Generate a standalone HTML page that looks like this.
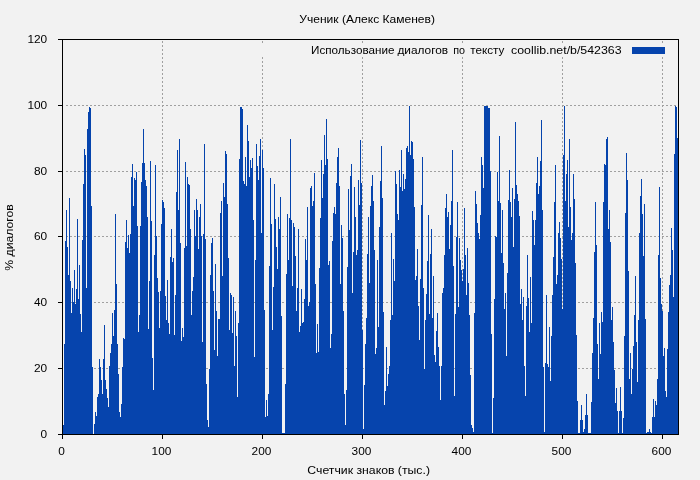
<!DOCTYPE html>
<html><head><meta charset="utf-8"><style>
html,body{margin:0;padding:0;background:#f2f2f2;}
body{width:700px;height:480px;overflow:hidden;position:relative;font-family:"Liberation Sans",sans-serif;}
svg{position:absolute;left:0;top:0;will-change:transform;}
text{font-family:"Liberation Sans",sans-serif;font-size:11px;fill:#000;}
</style></head><body>
<svg width="700" height="480" viewBox="0 0 700 480">
<rect x="0" y="0" width="700" height="480" fill="#f2f2f2"/>
<g stroke="#a0a0a0" stroke-width="1" stroke-dasharray="2,2" shape-rendering="crispEdges" fill="none">
<path d="M66 368.5H678M66 302.5H678M66 236.5H678M66 171.5H678M66 105.5H678"/>
<path d="M162.5 41V434M262.5 41V43M262.5 57V434M362.5 41V43M362.5 57V434M462.5 41V43M462.5 57V434M562.5 41V43M562.5 57V434M662.5 41V43M662.5 57V434"/>
</g>
<path d="M63 434V425H64V434ZM64 434V344H65V434ZM65 434V241H66V434ZM66 434V210H67V434ZM67 434V247H68V434ZM68 434V275H69V434ZM69 434V198H70V434ZM70 434V281H71V434ZM71 434V313H72V434ZM72 434V288H73V434ZM73 434V302H74V434ZM74 434V270H75V434ZM75 434V304H76V434ZM76 434V289H77V434ZM77 434V219H78V434ZM78 434V299H79V434ZM79 434V265H80V434ZM80 434V314H81V434ZM81 434V332H82V434ZM82 434V240H83V434ZM83 434V184H84V434ZM84 434V149H85V434ZM85 434V155H86V434ZM86 434V288H87V434ZM87 434V129H88V434ZM88 434V112H89V434ZM89 434V107H90V434ZM90 434V108H91V434ZM91 434V206H92V434ZM92 434V367H93V434ZM94 434V424H95V434ZM95 434V412H96V434ZM96 434V416H97V434ZM97 434V397H98V434ZM98 434V394H99V434ZM99 434V359H100V434ZM100 434V367H101V434ZM101 434V380H102V434ZM102 434V394H103V434ZM103 434V359H104V434ZM104 434V325H105V434ZM105 434V380H106V434ZM106 434V389H107V434ZM107 434V398H108V434ZM108 434V407H109V434ZM109 434V366H110V434ZM110 434V353H111V434ZM111 434V344H112V434ZM112 434V313H113V434ZM113 434V336H114V434ZM114 434V310H115V434ZM115 434V214H116V434ZM116 434V284H117V434ZM117 434V344H118V434ZM118 434V374H119V434ZM119 434V412H120V434ZM120 434V417H121V434ZM121 434V404H122V434ZM122 434V367H123V434ZM123 434V338H124V434ZM124 434V339H125V434ZM125 434V242H126V434ZM126 434V220H127V434ZM127 434V248H128V434ZM128 434V235H129V434ZM129 434V253H130V434ZM130 434V234H131V434ZM131 434V177H132V434ZM132 434V164H133V434ZM133 434V206H134V434ZM134 434V178H135V434ZM135 434V180H136V434ZM136 434V172H137V434ZM137 434V226H138V434ZM138 434V332H139V434ZM139 434V315H140V434ZM140 434V226H141V434ZM141 434V182H142V434ZM142 434V163H143V434ZM143 434V129H144V434ZM144 434V163H145V434ZM145 434V180H146V434ZM146 434V186H147V434ZM147 434V217H148V434ZM148 434V329H149V434ZM149 434V281H150V434ZM150 434V161H151V434ZM151 434V221H152V434ZM152 434V358H153V434ZM153 434V390H154V434ZM154 434V255H155V434ZM155 434V165H156V434ZM156 434V236H157V434ZM157 434V278H158V434ZM158 434V292H159V434ZM159 434V328H160V434ZM160 434V291H161V434ZM161 434V224H162V434ZM162 434V200H163V434ZM163 434V202H164V434ZM164 434V208H165V434ZM165 434V296H166V434ZM166 434V320H167V434ZM167 434V280H168V434ZM168 434V323H169V434ZM169 434V334H170V434ZM170 434V257H171V434ZM171 434V229H172V434ZM172 434V262H173V434ZM173 434V258H174V434ZM174 434V335H175V434ZM175 434V295H176V434ZM176 434V192H177V434ZM177 434V150H178V434ZM178 434V210H179V434ZM179 434V139H180V434ZM180 434V243H181V434ZM181 434V341H182V434ZM182 434V328H183V434ZM183 434V337H184V434ZM184 434V248H185V434ZM185 434V162H186V434ZM186 434V246H187V434ZM187 434V177H188V434ZM188 434V184H189V434ZM189 434V185H190V434ZM190 434V229H191V434ZM191 434V315H192V434ZM192 434V291H193V434ZM193 434V277H194V434ZM194 434V210H195V434ZM195 434V236H196V434ZM196 434V199H197V434ZM197 434V210H198V434ZM198 434V249H199V434ZM199 434V217H200V434ZM200 434V204H201V434ZM201 434V236H202V434ZM202 434V342H203V434ZM203 434V234H204V434ZM204 434V144H205V434ZM205 434V239H206V434ZM206 434V384H207V434ZM207 434V420H208V434ZM208 434V427H209V434ZM209 434V369H210V434ZM210 434V275H211V434ZM211 434V243H212V434ZM212 434V238H213V434ZM213 434V291H214V434ZM214 434V350H215V434ZM215 434V264H216V434ZM216 434V311H217V434ZM217 434V356H218V434ZM218 434V319H220V434ZM220 434V213H221V434ZM221 434V201H222V434ZM222 434V276H223V434ZM223 434V183H224V434ZM224 434V197H225V434ZM225 434V151H226V434ZM226 434V154H227V434ZM227 434V204H228V434ZM228 434V258H229V434ZM229 434V330H230V434ZM230 434V293H231V434ZM231 434V295H232V434ZM232 434V333H233V434ZM233 434V297H234V434ZM234 434V366H235V434ZM235 434V311H236V434ZM236 434V336H237V434ZM237 434V397H238V434ZM238 434V323H239V434ZM239 434V159H240V434ZM240 434V107H242V434ZM242 434V109H243V434ZM243 434V181H244V434ZM244 434V184H245V434ZM245 434V157H246V434ZM246 434V186H247V434ZM247 434V125H248V434ZM248 434V141H249V434ZM249 434V177H250V434ZM250 434V160H251V434ZM251 434V168H252V434ZM252 434V158H253V434ZM253 434V220H254V434ZM254 434V357H255V434ZM255 434V260H256V434ZM256 434V144H257V434ZM257 434V166H258V434ZM258 434V180H259V434ZM259 434V156H260V434ZM260 434V139H261V434ZM261 434V233H262V434ZM262 434V150H263V434ZM263 434V168H264V434ZM264 434V310H265V434ZM265 434V417H266V434ZM266 434V400H267V434ZM267 434V416H268V434ZM268 434V394H269V434ZM269 434V266H270V434ZM270 434V178H271V434ZM271 434V224H272V434ZM272 434V330H273V434ZM273 434V287H274V434ZM274 434V184H275V434ZM275 434V219H276V434ZM276 434V247H277V434ZM277 434V269H278V434ZM278 434V217H279V434ZM279 434V229H280V434ZM280 434V197H281V434ZM281 434V316H282V434ZM282 434V433H285V434ZM285 434V384H286V434ZM286 434V274H287V434ZM287 434V214H288V434ZM288 434V260H289V434ZM289 434V218H290V434ZM290 434V139H291V434ZM291 434V220H292V434ZM292 434V286H293V434ZM293 434V223H294V434ZM294 434V227H295V434ZM295 434V256H296V434ZM296 434V311H297V434ZM297 434V288H298V434ZM298 434V229H299V434ZM299 434V332H300V434ZM300 434V326H301V434ZM301 434V289H302V434ZM302 434V323H303V434ZM303 434V322H304V434ZM304 434V299H305V434ZM305 434V239H306V434ZM306 434V260H307V434ZM307 434V207H308V434ZM308 434V306H309V434ZM309 434V302H310V434ZM310 434V188H311V434ZM311 434V186H312V434ZM312 434V206H313V434ZM313 434V201H314V434ZM314 434V173H315V434ZM315 434V284H316V434ZM316 434V353H317V434ZM317 434V324H318V434ZM318 434V352H319V434ZM319 434V268H320V434ZM320 434V218H321V434ZM321 434V160H322V434ZM322 434V198H323V434ZM323 434V174H324V434ZM324 434V135H325V434ZM325 434V165H326V434ZM326 434V119H327V434ZM327 434V159H328V434ZM328 434V265H329V434ZM329 434V261H330V434ZM330 434V348H331V434ZM331 434V334H332V434ZM332 434V241H333V434ZM333 434V213H334V434ZM334 434V207H335V434ZM335 434V214H336V434ZM336 434V183H337V434ZM337 434V157H338V434ZM338 434V148H339V434ZM339 434V186H340V434ZM340 434V284H341V434ZM341 434V225H342V434ZM342 434V238H343V434ZM343 434V311H344V434ZM344 434V394H345V434ZM345 434V425H346V434ZM346 434V390H347V434ZM347 434V267H348V434ZM348 434V189H349V434ZM349 434V230H350V434ZM350 434V176H351V434ZM351 434V164H352V434ZM352 434V293H353V434ZM353 434V252H354V434ZM354 434V187H355V434ZM355 434V217H356V434ZM356 434V255H357V434ZM357 434V250H358V434ZM358 434V180H359V434ZM359 434V205H360V434ZM360 434V140H361V434ZM361 434V183H362V434ZM362 434V330H363V434ZM363 434V429H364V434ZM364 434V385H365V434ZM365 434V344H366V434ZM366 434V318H367V434ZM367 434V254H368V434ZM368 434V217H369V434ZM369 434V283H370V434ZM370 434V206H371V434ZM371 434V186H372V434ZM372 434V175H373V434ZM373 434V201H374V434ZM374 434V250H375V434ZM375 434V354H376V434ZM376 434V348H377V434ZM377 434V260H378V434ZM378 434V327H379V434ZM379 434V227H380V434ZM380 434V181H381V434ZM381 434V146H382V434ZM382 434V198H383V434ZM383 434V312H384V434ZM384 434V405H385V434ZM385 434V391H386V434ZM386 434V347H387V434ZM387 434V386H388V434ZM388 434V374H389V434ZM389 434V366H390V434ZM390 434V320H391V434ZM391 434V233H392V434ZM392 434V315H393V434ZM393 434V259H394V434ZM394 434V281H395V434ZM395 434V171H396V434ZM396 434V184H397V434ZM397 434V214H398V434ZM398 434V220H399V434ZM399 434V170H400V434ZM400 434V187H401V434ZM401 434V150H402V434ZM402 434V191H403V434ZM403 434V174H404V434ZM404 434V189H405V434ZM405 434V179H406V434ZM406 434V148H407V434ZM407 434V146H408V434ZM408 434V152H409V434ZM409 434V106H410V434ZM410 434V155H411V434ZM411 434V141H412V434ZM412 434V142H413V434ZM413 434V159H414V434ZM414 434V207H415V434ZM415 434V280H416V434ZM416 434V276H417V434ZM417 434V249H418V434ZM418 434V306H419V434ZM419 434V340H420V434ZM420 434V279H421V434ZM421 434V205H422V434ZM422 434V157H423V434ZM423 434V288H424V434ZM424 434V369H425V434ZM425 434V320H426V434ZM426 434V294H427V434ZM427 434V261H428V434ZM428 434V215H429V434ZM429 434V314H430V434ZM430 434V254H431V434ZM431 434V229H432V434ZM432 434V318H433V434ZM433 434V276H434V434ZM434 434V355H435V434ZM435 434V362H436V434ZM436 434V331H437V434ZM437 434V313H438V434ZM438 434V347H439V434ZM439 434V366H440V434ZM440 434V400H441V434ZM441 434V366H442V434ZM442 434V293H443V434ZM443 434V288H444V434ZM444 434V255H445V434ZM445 434V208H446V434ZM446 434V194H447V434ZM447 434V217H448V434ZM448 434V212H449V434ZM449 434V249H450V434ZM450 434V225H451V434ZM451 434V201H452V434ZM452 434V150H453V434ZM453 434V266H454V434ZM454 434V396H455V434ZM455 434V314H456V434ZM456 434V237H457V434ZM457 434V202H458V434ZM458 434V307H459V434ZM459 434V238H460V434ZM460 434V260H461V434ZM461 434V270H462V434ZM462 434V281H463V434ZM463 434V269H464V434ZM464 434V208H465V434ZM465 434V255H466V434ZM466 434V295H467V434ZM467 434V248H468V434ZM468 434V283H469V434ZM469 434V315H470V434ZM470 434V375H471V434ZM471 434V425H472V434ZM472 434V428H473V434ZM473 434V432H474V434ZM474 434V313H475V434ZM475 434V191H476V434ZM476 434V204H477V434ZM477 434V223H478V434ZM478 434V233H479V434ZM479 434V239H480V434ZM480 434V215H481V434ZM481 434V157H482V434ZM482 434V165H483V434ZM483 434V188H484V434ZM484 434V106H488V434ZM488 434V108H490V434ZM490 434V171H491V434ZM491 434V334H492V434ZM492 434V433H493V434ZM493 434V398H494V434ZM494 434V299H495V434ZM495 434V236H496V434ZM496 434V237H497V434ZM497 434V172H498V434ZM498 434V201H499V434ZM499 434V136H500V434ZM500 434V203H501V434ZM501 434V253H502V434ZM502 434V210H503V434ZM503 434V263H504V434ZM504 434V309H505V434ZM505 434V293H506V434ZM506 434V356H507V434ZM507 434V273H508V434ZM508 434V200H509V434ZM509 434V170H510V434ZM510 434V202H511V434ZM511 434V217H512V434ZM512 434V188H513V434ZM513 434V247H514V434ZM514 434V199H515V434ZM515 434V122H516V434ZM516 434V185H517V434ZM517 434V194H518V434ZM518 434V201H519V434ZM519 434V216H520V434ZM520 434V304H521V434ZM521 434V289H522V434ZM522 434V320H523V434ZM523 434V297H524V434ZM524 434V366H525V434ZM525 434V396H526V434ZM526 434V306H527V434ZM527 434V255H528V434ZM528 434V298H529V434ZM529 434V332H530V434ZM530 434V277H531V434ZM531 434V323H532V434ZM532 434V211H533V434ZM533 434V220H534V434ZM534 434V245H535V434ZM535 434V220H536V434ZM536 434V183H537V434ZM537 434V157H538V434ZM538 434V194H539V434ZM539 434V186H540V434ZM540 434V161H541V434ZM541 434V120H542V434ZM542 434V210H543V434ZM543 434V367H544V434ZM544 434V432H545V434ZM545 434V363H546V434ZM546 434V295H547V434ZM547 434V364H548V434ZM548 434V367H549V434ZM549 434V327H550V434ZM550 434V381H551V434ZM551 434V336H552V434ZM552 434V295H553V434ZM553 434V257H554V434ZM554 434V202H555V434ZM555 434V165H556V434ZM556 434V284H557V434ZM557 434V275H558V434ZM558 434V233H559V434ZM559 434V222H560V434ZM560 434V238H561V434ZM561 434V259H562V434ZM562 434V309H563V434ZM563 434V155H564V434ZM564 434V106H565V434ZM565 434V201H566V434ZM566 434V174H567V434ZM567 434V160H568V434ZM568 434V227H569V434ZM569 434V139H570V434ZM570 434V207H571V434ZM571 434V240H572V434ZM572 434V233H573V434ZM573 434V174H574V434ZM574 434V199H575V434ZM575 434V263H576V434ZM576 434V335H577V434ZM577 434V401H578V434ZM578 434V433H580V434ZM580 434V420H581V434ZM581 434V405H582V434ZM582 434V420H583V434ZM583 434V432H584V434ZM584 434V429H585V434ZM585 434V415H586V434ZM586 434V394H587V434ZM587 434V415H588V434ZM588 434V433H591V434ZM591 434V402H592V434ZM592 434V353H593V434ZM593 434V318H594V434ZM594 434V252H595V434ZM595 434V202H596V434ZM596 434V245H597V434ZM597 434V344H598V434ZM598 434V379H599V434ZM599 434V323H600V434ZM600 434V354H601V434ZM601 434V312H602V434ZM602 434V322H603V434ZM603 434V202H604V434ZM604 434V164H605V434ZM605 434V165H606V434ZM606 434V139H607V434ZM607 434V137H608V434ZM608 434V229H609V434ZM609 434V210H610V434ZM610 434V242H611V434ZM611 434V320H612V434ZM612 434V307H613V434ZM613 434V342H614V434ZM614 434V370H615V434ZM615 434V403H616V434ZM616 434V388H617V434ZM617 434V411H618V434ZM618 434V433H619V434ZM619 434V411H620V434ZM620 434V387H621V434ZM621 434V411H622V434ZM622 434V433H623V434ZM623 434V418H624V434ZM624 434V336H625V434ZM625 434V213H626V434ZM626 434V153H627V434ZM627 434V180H628V434ZM628 434V271H629V434ZM629 434V379H630V434ZM630 434V353H631V434ZM631 434V394H632V434ZM632 434V369H633V434ZM633 434V346H634V434ZM634 434V315H635V434ZM635 434V276H636V434ZM636 434V342H637V434ZM637 434V382H638V434ZM638 434V320H639V434ZM639 434V233H640V434ZM640 434V196H641V434ZM641 434V179H642V434ZM642 434V214H643V434ZM643 434V256H644V434ZM644 434V204H645V434ZM645 434V319H646V434ZM646 434V433H647V434ZM647 434V432H649V434ZM649 434V429H650V434ZM650 434V432H651V434ZM651 434V433H652V434ZM652 434V417H653V434ZM653 434V399H654V434ZM654 434V417H655V434ZM655 434V401H656V434ZM656 434V405H657V434ZM657 434V379H658V434ZM658 434V255H659V434ZM659 434V187H660V434ZM660 434V278H661V434ZM661 434V304H662V434ZM662 434V311H663V434ZM663 434V356H664V434ZM664 434V348H665V434ZM665 434V391H666V434ZM666 434V397H667V434ZM667 434V349H668V434ZM668 434V312H669V434ZM669 434V285H670V434ZM670 434V275H671V434ZM671 434V228H672V434ZM672 434V250H673V434ZM673 434V297H674V434ZM674 434V154H675V434ZM675 434V106H676V434ZM676 434V107H677V434ZM677 434V138H678V434Z" fill="#0644ad" shape-rendering="crispEdges"/>
<rect x="632" y="47" width="33" height="7" fill="#0644ad" shape-rendering="crispEdges"/>
<g stroke="#000" stroke-width="1" shape-rendering="crispEdges" fill="none">
<path d="M62.5 39.5H678.5V434.5H62.5Z"/>
<path d="M58 434.5H62M58 368.5H62M58 302.5H62M58 236.5H62M58 171.5H62M58 105.5H62M58 39.5H62"/>
<path d="M62.5 434V439M162.5 434V439M262.5 434V439M362.5 434V439M462.5 434V439M562.5 434V439M662.5 434V439"/>
</g>
<g class="tx"><text x="40.6" y="437.8" textLength="6.6" lengthAdjust="spacingAndGlyphs" style="font-size:10.7px">0</text><text x="34.0" y="371.8" textLength="13.2" lengthAdjust="spacingAndGlyphs" style="font-size:10.7px">20</text><text x="34.0" y="305.8" textLength="13.2" lengthAdjust="spacingAndGlyphs" style="font-size:10.7px">40</text><text x="34.0" y="239.8" textLength="13.2" lengthAdjust="spacingAndGlyphs" style="font-size:10.7px">60</text><text x="34.0" y="174.8" textLength="13.2" lengthAdjust="spacingAndGlyphs" style="font-size:10.7px">80</text><text x="27.400000000000006" y="108.8" textLength="19.8" lengthAdjust="spacingAndGlyphs" style="font-size:10.7px">100</text><text x="27.400000000000006" y="42.8" textLength="19.8" lengthAdjust="spacingAndGlyphs" style="font-size:10.7px">120</text><text x="58.2" y="455" textLength="6.6" lengthAdjust="spacingAndGlyphs" style="font-size:10.7px">0</text><text x="151.6" y="455" textLength="19.8" lengthAdjust="spacingAndGlyphs" style="font-size:10.7px">100</text><text x="251.6" y="455" textLength="19.8" lengthAdjust="spacingAndGlyphs" style="font-size:10.7px">200</text><text x="351.6" y="455" textLength="19.8" lengthAdjust="spacingAndGlyphs" style="font-size:10.7px">300</text><text x="451.6" y="455" textLength="19.8" lengthAdjust="spacingAndGlyphs" style="font-size:10.7px">400</text><text x="551.6" y="455" textLength="19.8" lengthAdjust="spacingAndGlyphs" style="font-size:10.7px">500</text><text x="651.6" y="455" textLength="19.8" lengthAdjust="spacingAndGlyphs" style="font-size:10.7px">600</text><text x="299.3" y="23" textLength="135.7" lengthAdjust="spacingAndGlyphs" style="font-size:10.7px">Ученик (Алекс Каменев)</text><text x="307.3" y="474" textLength="122.7" lengthAdjust="spacingAndGlyphs" style="font-size:10.7px">Счетчик знаков (тыс.)</text><text x="311" y="54" textLength="83.4" lengthAdjust="spacingAndGlyphs" style="font-size:10.7px">Использование</text><text x="397.4" y="54" textLength="50.8" lengthAdjust="spacingAndGlyphs" style="font-size:10.7px">диалогов</text><text x="453.2" y="54" textLength="11.8" lengthAdjust="spacingAndGlyphs" style="font-size:10.7px">по</text><text x="470.2" y="54" textLength="34.1" lengthAdjust="spacingAndGlyphs" style="font-size:10.7px">тексту</text><text x="511" y="54" textLength="110.6" lengthAdjust="spacingAndGlyphs" style="font-size:10.7px">coollib.net/b/542363</text><g transform="translate(13.3,270.7) rotate(-90)"><text x="0" y="0" textLength="66.4" lengthAdjust="spacingAndGlyphs" style="font-size:10.7px">% диалогов</text></g></g>
</svg>
</body></html>
